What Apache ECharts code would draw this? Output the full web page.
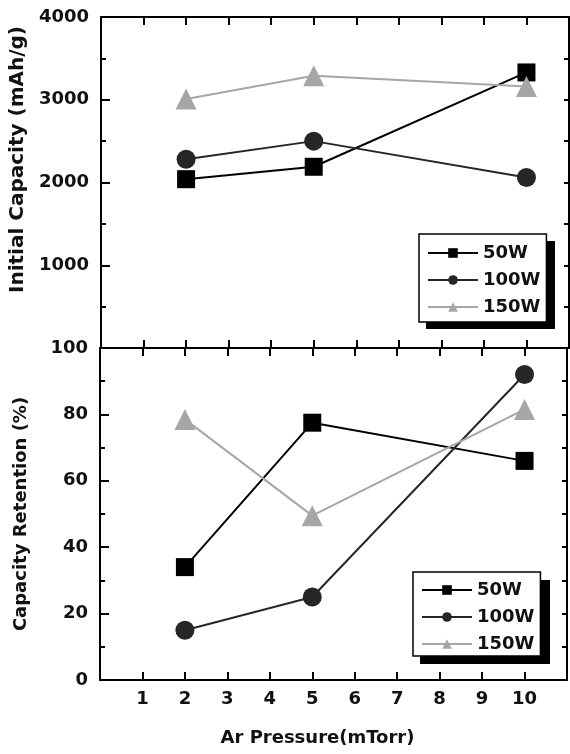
<!DOCTYPE html>
<html>
<head>
<meta charset="utf-8">
<script src="https://cdn.jsdelivr.net/npm/echarts@6/dist/echarts.min.js"></script>
<style>
html,body{margin:0;padding:0;background:#fff;}
#chart{width:570px;height:754px;}
</style>
</head>
<body>
<div id="chart"></div>
<script>
// x positions (mTorr) and tick labels
var pressures = [2, 5, 10];
var xTickLabels = ['1','2','3','4','5','6','7','8','9','10'];
var seriesNames = ['50W', '100W', '150W'];

// initial capacity (mAh/g)
var capacity50 = [2040, 2190, 3330];
var capacity100 = [2280, 2500, 2060];
var capacity150 = [3010, 3290, 3160];

// capacity retention (%)
var retention50 = [34, 77.5, 66];
var retention100 = [15, 25, 92];
var retention150 = [78.5, 49.5, 81.5];

var FONT = 'DejaVu Sans';
var colors = ['#000000', '#262626', '#a6a6a6'];
var symbols = ['rect', 'circle', 'triangle'];
var symbolSizes = [18, 19, 21];

function pairs(vals){
    var out = [];
    for(var i=0;i<pressures.length;i++){
        out.push([pressures[i], vals[i]]);
    }
    return out;
}

function makeSeries(name, idx, vals, xi, yi){
    return {
        name: name,
        type: 'line',
        xAxisIndex: xi,
        yAxisIndex: yi,
        data: pairs(vals),
        symbol: symbols[idx],
        symbolSize: symbolSizes[idx],
        lineStyle: {color: colors[idx], width: 2},
        itemStyle: {color: colors[idx]},
        animation: false
    };
}

function xAxis(grid, pos, showLabels){
    var ax = {
        type: 'value',
        gridIndex: grid,
        position: pos,
        min: 0,
        max: 11,
        interval: 1,
        axisLine: {show: true, onZero: false, lineStyle: {color: '#000', width: 2}},
        axisTick: {show: true, inside: true, length: 8, lineStyle: {color: '#000', width: 2}},
        splitLine: {show: false},
        axisLabel: {show: false}
    };
    if(showLabels){
        ax.axisLabel = {
            show: true,
            margin: 10,
            color: '#111',
            fontFamily: FONT,
            fontWeight: 'bold',
            fontSize: 18,
            formatter: function(v){
                return (v >= 1 && v <= 10) ? xTickLabels[v-1] : '';
            }
        };
        ax.name = 'Ar Pressure(mTorr)';
        ax.nameLocation = 'middle';
        ax.nameGap = 49;
        ax.nameTextStyle = {color: '#111', fontFamily: FONT, fontWeight: 'bold', fontSize: 18, padding: [0, 32, 0, 0]};
    }
    return ax;
}

function leftAxis(grid, max, interval, name, hideZero, nameSize, namePad){
    return {
        type: 'value',
        gridIndex: grid,
        position: 'left',
        min: 0,
        max: max,
        interval: interval,
        name: name,
        nameLocation: 'middle',
        nameGap: 70,
        nameTextStyle: {color: '#111', fontFamily: FONT, fontWeight: 'bold', fontSize: nameSize, padding: namePad},
        axisLine: {show: true, onZero: false, lineStyle: {color: '#000', width: 2}},
        axisTick: {show: true, inside: true, length: 9, lineStyle: {color: '#000', width: 2}},
        minorTick: {show: true, splitNumber: 2, length: 5, lineStyle: {color: '#000', width: 2}},
        splitLine: {show: false},
        axisLabel: {
            margin: 12,
            color: '#111',
            fontFamily: FONT,
            fontWeight: 'bold',
            fontSize: 18,
            formatter: function(v){ return (hideZero && v === 0) ? '' : String(v); }
        }
    };
}

function rightAxis(grid, max, interval){
    return {
        type: 'value',
        gridIndex: grid,
        position: 'right',
        min: 0,
        max: max,
        interval: interval,
        axisLine: {show: true, onZero: false, lineStyle: {color: '#000', width: 2}},
        axisTick: {show: true, inside: true, length: 5, lineStyle: {color: '#000', width: 2}},
        splitLine: {show: false},
        axisLabel: {show: false}
    };
}

function legend(left, top, pad){
    return {
        orient: 'vertical',
        left: left,
        top: top,
        z: 6,
        data: seriesNames,
        itemWidth: 50,
        itemHeight: 12,
        itemGap: 9,
        padding: pad,
        backgroundColor: '#fff',
        borderColor: '#000',
        borderWidth: 1.5,
        borderRadius: 0,
        selectedMode: false,
        textStyle: {color: '#111', fontFamily: FONT, fontWeight: 'bold', fontSize: 18}
    };
}

// hard drop shadow behind each legend box
function legendShadow(x, y, w, h){
    return {type: 'rect', z: 5, shape: {x: x, y: y, width: w, height: h}, style: {fill: '#000'}};
}

var chart = echarts.init(document.getElementById('chart'), null, {renderer: 'canvas'});
chart.setOption({
    backgroundColor: '#fff',
    animation: false,
    grid: [
        {left: 100, right: 1, top: 17, height: 331},
        {left: 100, right: 1, top: 348, height: 332}
    ],
    legend: [
        legend(419, 234, [10, 6, 6, 8]),
        legend(413, 572, [9, 6, 3, 8])
    ],
    graphic: [
        legendShadow(426, 241, 129, 88),
        legendShadow(420, 580, 130, 84)
    ],
    xAxis: [
        xAxis(0, 'bottom', false),
        xAxis(0, 'top', false),
        xAxis(1, 'bottom', true),
        xAxis(1, 'top', false)
    ],
    yAxis: [
        leftAxis(0, 4000, 1000, 'Initial Capacity (mAh/g)', true, 20, [0, 0, 0, 46]),
        rightAxis(0, 4000, 500),
        leftAxis(1, 100, 20, 'Capacity Retention (%)', false, 18, 0),
        rightAxis(1, 100, 10)
    ],
    series: [
        makeSeries(seriesNames[0], 0, capacity50, 0, 0),
        makeSeries(seriesNames[1], 1, capacity100, 0, 0),
        makeSeries(seriesNames[2], 2, capacity150, 0, 0),
        makeSeries(seriesNames[0], 0, retention50, 2, 2),
        makeSeries(seriesNames[1], 1, retention100, 2, 2),
        makeSeries(seriesNames[2], 2, retention150, 2, 2)
    ]
});
</script>
</body>
</html>
